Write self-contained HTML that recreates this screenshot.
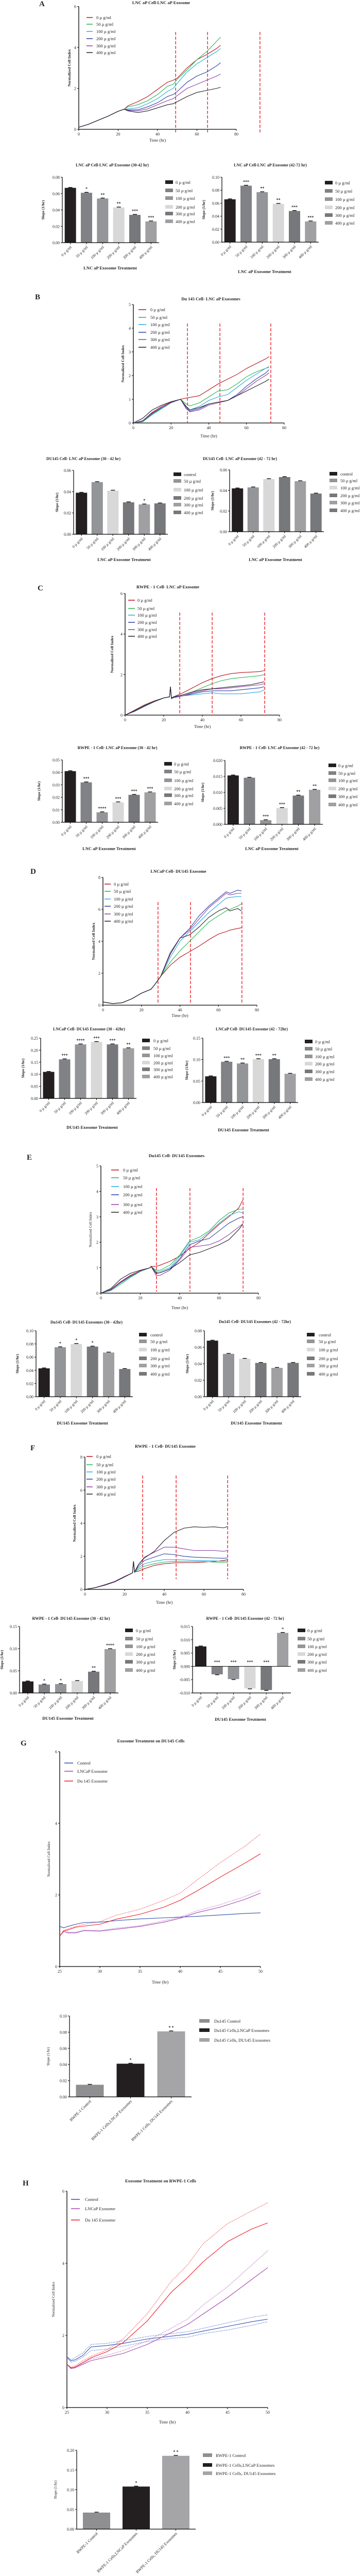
<!DOCTYPE html>
<html><head><meta charset="utf-8"><title>Exosome cell index figure</title>
<style>
html,body{margin:0;padding:0;background:#fff;width:707px;height:5026px;overflow:hidden;}
svg{display:block;font-family:"Liberation Serif",serif;overflow:hidden;}
</style></head>
<body>
<svg id="fig" width="707" height="5026" viewBox="0 0 707 5026" xmlns="http://www.w3.org/2000/svg"></svg>
<script>
// ===================== DATA =====================
const doseLabels = ["0 \u00b5 g/ml","50 \u00b5 g/ml","100 \u00b5 g/ml","200 \u00b5 g/ml","300 \u00b5 g/ml","400 \u00b5 g/ml"];
const doseLabelsCtrl = ["control","50 \u00b5 g/ml","100 \u00b5 g/ml","200 \u00b5 g/ml","300 \u00b5 g/ml","400 \u00b5 g/ml"];
const barCats = ["0 \u00b5 g/ml","50 \u00b5 g/ml","100 \u00b5 g/ml","200 \u00b5 g/ml","300 \u00b5 g/ml","400 \u00b5 g/ml"];

// ---- A line ----
const aTime = [0,5,10,15,20,23,25,30,35,40,45,48,50,55,60,65,70,72];
const aS0 = [0.1,0.25,0.45,0.65,0.88,0.98,1.15,1.35,1.6,1.95,2.3,2.4,2.5,3.0,3.4,3.65,3.95,4.1];
const aS50 = [0.1,0.25,0.45,0.65,0.88,0.98,1.1,1.2,1.4,1.7,2.1,2.2,2.45,2.9,3.4,3.8,4.3,4.5];
const aS100 = [0.1,0.25,0.45,0.65,0.88,0.98,1.0,1.05,1.25,1.5,1.85,2.0,2.25,2.8,3.2,3.5,3.8,3.95];
const aS200 = [0.1,0.25,0.45,0.65,0.88,0.98,0.95,0.95,1.1,1.3,1.6,1.7,1.85,2.3,2.6,2.8,3.1,3.25];
const aS300 = [0.1,0.25,0.45,0.65,0.88,0.98,0.92,0.9,1.0,1.2,1.4,1.5,1.65,2.0,2.2,2.4,2.6,2.7];
const aS400 = [0.1,0.25,0.45,0.65,0.88,0.98,0.9,0.82,0.9,1.05,1.2,1.25,1.35,1.6,1.8,1.9,2.0,2.05];
// ---- B line ----
const bTime = [0,5,10,15,20,25,28,30,35,40,45,50,55,60,65,70,72];
const bS0 = [0,0.1,0.45,0.7,0.88,1.0,1.05,1.08,1.15,1.4,1.65,1.85,2.05,2.3,2.5,2.7,2.8];
const bS50 = [0,0.05,0.35,0.6,0.85,1.0,0.8,0.72,0.85,1.1,1.35,1.4,1.65,1.95,2.15,2.3,2.38];
const bS100 = [0,0.08,0.38,0.62,0.85,1.0,0.7,0.55,0.7,0.95,1.1,1.2,1.5,1.8,2.05,2.3,2.35];
const bS200 = [0,0.08,0.4,0.65,0.86,1.0,0.65,0.5,0.6,0.8,0.88,0.95,1.2,1.55,1.85,2.1,2.25];
const bS300 = [0,0.1,0.42,0.66,0.86,1.0,0.6,0.47,0.55,0.75,0.85,0.95,1.15,1.45,1.75,2.0,2.12];
const bS400 = [0,0.2,0.55,0.75,0.9,1.0,0.7,0.55,0.65,0.8,0.88,0.95,1.15,1.35,1.55,1.75,1.85];
// ---- C line ----
const cTime = [0,5,10,15,20,23,23.5,24,25,30,35,40,45,50,55,60,65,70,72];
const cS0 = [0,0.25,0.5,0.7,0.85,0.9,1.4,0.85,0.9,1.1,1.35,1.6,1.8,1.95,2.05,2.1,2.12,2.15,2.2];
const cS50 = [0,0.22,0.47,0.68,0.85,0.9,1.4,0.85,0.9,1.0,1.15,1.35,1.55,1.7,1.8,1.85,1.9,1.95,2.0];
const cS100 = [0,0.18,0.42,0.65,0.84,0.9,1.4,0.8,0.85,0.95,1.0,1.05,1.1,1.05,1.05,1.05,1.1,1.15,1.25];
const cS200 = [0,0.2,0.45,0.66,0.85,0.9,1.4,0.82,0.87,0.95,1.05,1.15,1.2,1.2,1.2,1.25,1.3,1.35,1.4];
const cS300 = [0,0.2,0.45,0.66,0.85,0.9,1.4,0.82,0.88,0.95,1.1,1.2,1.3,1.3,1.35,1.4,1.45,1.5,1.55];
const cS400 = [0,0.22,0.46,0.67,0.85,0.9,1.4,0.84,0.9,1.0,1.15,1.25,1.3,1.35,1.4,1.45,1.5,1.6,1.65];
// ---- D line ----
const dTime = [0,5,10,15,20,25,27,30,35,40,45,50,55,60,64,66,70,72];
const dS0 = [0.2,0.1,0.15,0.4,0.75,1.0,1.3,1.8,2.5,3.0,3.35,3.7,4.1,4.45,4.6,4.7,4.8,4.85];
const dS50 = [0.2,0.1,0.15,0.4,0.75,1.0,1.3,1.8,2.7,3.4,4.0,4.6,5.2,5.6,5.9,6.0,6.2,6.35];
const dS100 = [0.2,0.1,0.15,0.4,0.75,1.0,1.3,1.8,3.0,4.0,4.6,5.2,5.8,6.3,6.7,6.75,6.8,6.8];
const dS200 = [0.2,0.1,0.15,0.4,0.75,1.0,1.3,1.8,3.3,4.2,4.8,5.6,6.2,6.7,7.1,7.0,7.2,7.15];
const dS300 = [0.2,0.1,0.15,0.4,0.75,1.0,1.3,1.8,3.3,4.2,4.7,5.4,6.1,6.6,7.0,6.9,7.0,7.0];
const dS400 = [0.2,0.1,0.15,0.4,0.75,1.0,1.3,1.8,3.2,4.2,4.4,4.9,5.5,5.9,6.1,5.9,6.05,5.9];
// ---- E line ----
const eTime = [0,5,10,15,20,25,25.5,28,30,35,40,45,50,55,60,65,70,72];
const eS0 = [0,0.15,0.45,0.7,0.88,1.0,1.05,1.05,1.1,1.25,1.45,1.75,2.0,2.35,2.7,3.0,3.35,3.65];
const eS50 = [0,0.1,0.35,0.62,0.85,1.0,1.05,0.9,0.9,1.1,1.5,2.05,2.2,2.45,2.85,3.15,3.3,3.3];
const eS100 = [0,0.12,0.4,0.65,0.86,1.0,1.05,0.85,0.85,1.0,1.45,2.0,2.1,2.4,2.75,3.05,3.2,3.15];
const eS200 = [0,0.13,0.42,0.67,0.87,1.0,1.05,0.8,0.8,0.95,1.35,1.9,2.05,2.15,2.45,2.75,2.95,3.0];
const eS300 = [0,0.14,0.43,0.68,0.87,1.0,1.05,0.7,0.7,0.9,1.3,1.8,1.85,1.9,2.05,2.3,2.6,2.72];
const eS400 = [0,0.18,0.55,0.78,0.9,1.0,1.05,0.78,0.8,0.95,1.2,1.5,1.6,1.75,1.9,2.1,2.5,2.7];
// ---- F line ----
const fTime = [0,5,10,15,20,24,24.5,25,27,30,35,40,45,50,55,60,65,70,72];
const fS0 = [0,0.1,0.25,0.45,0.75,1.0,1.7,1.05,1.1,1.25,1.45,1.55,1.6,1.62,1.62,1.65,1.68,1.75,1.8];
const fS50 = [0,0.1,0.25,0.45,0.75,1.0,1.7,1.05,1.2,1.4,1.55,1.65,1.7,1.68,1.68,1.68,1.65,1.62,1.62];
const fS100 = [0,0.1,0.25,0.45,0.75,1.0,1.7,1.05,1.3,1.55,1.7,1.8,1.8,1.78,1.75,1.75,1.72,1.7,1.7];
const fS200 = [0,0.1,0.25,0.45,0.75,1.0,1.7,1.05,1.4,1.75,1.95,2.15,2.1,2.0,1.95,1.92,1.9,1.88,1.9];
const fS300 = [0,0.1,0.25,0.45,0.75,1.0,1.7,1.05,1.5,1.95,2.25,2.55,2.55,2.45,2.35,2.35,2.35,2.3,2.35];
const fS400 = [0,0.1,0.28,0.48,0.78,1.0,1.7,1.05,1.5,1.9,2.3,2.95,3.45,3.7,3.78,3.75,3.78,3.72,3.8];
// ---- G line ----
const gTime = [25,25.5,26,27,28,30,32,35,38,40,42,45,48,50];
const gControl = [1.12,1.08,1.12,1.18,1.23,1.24,1.28,1.33,1.36,1.38,1.40,1.44,1.48,1.5];
const gLncap = [0.85,0.98,0.94,0.94,1.0,0.99,1.04,1.12,1.24,1.35,1.5,1.66,1.87,2.05];
const gDu145 = [0.85,1.0,1.02,1.1,1.13,1.18,1.32,1.46,1.66,1.85,2.1,2.5,2.88,3.15];
const gDu145Upper = [0.85,1.0,1.05,1.12,1.18,1.25,1.43,1.6,1.85,2.05,2.4,2.9,3.35,3.7];
const gLncapUpper = [0.85,1.0,0.96,0.96,1.02,1.0,1.07,1.14,1.28,1.38,1.55,1.73,1.95,2.13];
// ---- H line ----
const hTime = [25,25.5,26,27,28,30,32,35,38,40,42,45,48,50];
const hControl = [1.4,1.3,1.32,1.45,1.68,1.72,1.78,1.9,1.98,2.03,2.12,2.25,2.38,2.45];
const hLncap = [1.2,1.08,1.1,1.2,1.3,1.4,1.5,1.75,2.08,2.3,2.6,3.05,3.55,3.88];
const hDu145 = [1.2,1.1,1.12,1.25,1.38,1.55,1.8,2.4,3.2,3.6,4.05,4.6,4.95,5.12];
const hDu145Upper = [1.2,1.12,1.15,1.3,1.42,1.6,1.9,2.6,3.5,3.95,4.55,5.1,5.45,5.68];
const hLncapUpper = [1.2,1.1,1.12,1.22,1.35,1.45,1.58,1.85,2.2,2.45,2.85,3.35,3.95,4.35];
const hControlUpper = [1.42,1.32,1.38,1.52,1.75,1.78,1.85,1.97,2.05,2.1,2.2,2.35,2.5,2.57];
const hControlLower = [1.38,1.25,1.28,1.4,1.58,1.62,1.7,1.83,1.92,1.95,2.05,2.15,2.28,2.38];

// ---- bar values ----
const a1Vals = [0.067,0.061,0.054,0.043,0.034,0.026];
const a1Stars = ["","*","**","**","***","***"];
const a2Vals = [0.066,0.087,0.077,0.059,0.048,0.032];
const a2Stars = ["","***","**","**","***","***"];
const b1Vals = [0.039,0.049,0.041,0.030,0.028,0.029];
const b1Stars = ["","","","","*",""];
const b2Vals = [0.042,0.043,0.051,0.053,0.049,0.037];
const b2Stars = ["","","","","",""];
const c1Vals = [0.041,0.032,0.008,0.016,0.022,0.024];
const c1Stars = ["","***","****","***","***","***"];
const c2Vals = [0.0153,0.0146,0.0013,0.0051,0.0090,0.0108];
const c2Stars = ["","","***","***","**","**"];
const d1Vals = [0.110,0.162,0.224,0.234,0.224,0.208];
const d1Stars = ["","***","****","***","***","**"];
const d2Vals = [0.061,0.095,0.091,0.101,0.101,0.067];
const d2Stars = ["","***","**","***","**",""];
const e1Vals = [0.043,0.075,0.080,0.076,0.067,0.042];
const e1Stars = ["","*","*","*","",""];
const e2Vals = [0.068,0.052,0.046,0.041,0.035,0.041];
const e2Stars = ["","","","","",""];
const f1Vals = [0.026,0.019,0.020,0.027,0.048,0.099];
const f1Stars = ["","*","*","","**","****"];
const f2Vals = [0.0075,-0.0030,-0.0048,-0.0083,-0.0089,0.0126];
const f2Stars = ["","***","***","***","***","*"];
const gCats = ["RWPE-1 Control","RWPE-1 Cells,LNCaP Exosomes","RWPE-1 Cells, DU145 Exosomes"];
const gLegend = ["Du145 Control","Du145 Cells,LNCaP Exosomes","Du145 Cells, DU145 Exosomes"];
const gVals = [0.015,0.041,0.081];
const gStars = ["","*","* *"];
const hCats = ["RWPE-1 Control","RWPE-1 Cells,LNCaP Exosomes","RWPE-1 Cells, DU145 Exosomes"];
const hLegend = ["RWPE-1 Control","RWPE-1 Cells,LNCaP Exosomes","RWPE-1 Cells, DU145 Exosomes"];
const hVals = [0.042,0.108,0.186];
const hStars = ["","*","* *"];

const xTicks80 = [0,20,40,60,80];
const xTicks50 = [25,30,35,40,45,50];
const yTicks6 = [0,2,4,6];
const yTicks5 = [0,1,2,3,4,5];
const yTicks8 = [0,2,4,6,8];

// ===================== DRAWING =====================
const NS = "http://www.w3.org/2000/svg";
const svg = document.getElementById("fig");
const LC = ["#b8121b","#2bb34a","#27aae1","#2e3f9e","#8e3fa8","#231f20"];
function el(tag, attrs, name, parent) {
  const e = document.createElementNS(NS, tag);
  for (const k in attrs) e.setAttribute(k, attrs[k]);
  
  
  (parent || svg).appendChild(e);
  return e;
}
function txt(x, y, s, attrs, name, parent) {
  const a = Object.assign({x: x, y: y, "font-size": 8.5, fill: "#231f20"}, attrs || {});
  const t = el("text", a, name, parent);
  t.textContent = s;
  return t;
}
function label(x, y, s) {
  txt(x, y, s, {"font-size": 15, "font-weight": "bold"}, "panel-label");
}

function lineChart(c) {
  const g = el("g", {}, c.name);
  const sx = t => c.x0 + (t - c.xmin) / (c.xmax - c.xmin) * (c.x1 - c.x0);
  const sy = v => c.yBot - (v - c.ymin) / (c.ymax - c.ymin) * (c.yBot - c.yTop);
  txt((c.x0 + c.x1) / 2 + (c.tdx || 0), c.ty, c.title, {"text-anchor": "middle", "font-weight": "bold", "font-size": 8.5}, "chart-title", g);
  el("line", {x1: c.x0, y1: c.yTop, x2: c.x0, y2: c.yBot, stroke: "#000", "stroke-width": 1.3}, "y-axis", g);
  el("line", {x1: c.x0, y1: c.yBot, x2: c.x1, y2: c.yBot, stroke: "#000", "stroke-width": 1.3}, "x-axis", g);
  c.yt.forEach(v => {
    el("line", {x1: c.x0 - 3, y1: sy(v), x2: c.x0, y2: sy(v), stroke: "#000"}, "y-tick", g);
    txt(c.x0 - 5, sy(v) + 3, String(v), {"text-anchor": "end", "font-size": 8}, "y-tick-label", g);
  });
  c.xt.forEach(v => {
    el("line", {x1: sx(v), y1: c.yBot, x2: sx(v), y2: c.yBot + 3, stroke: "#000"}, "x-tick", g);
    txt(sx(v), c.yBot + 12, String(v), {"text-anchor": "middle", "font-size": 8}, "x-tick-label", g);
  });
  const ym = (c.yTop + c.yBot) / 2;
  txt(c.ylx, ym, "Normalized Cell Index", {"text-anchor": "middle", transform: "rotate(-90 " + c.ylx + " " + ym + ")", "font-size": 7.5, "font-weight": c.bold ? "bold" : "normal"}, "y-axis-title", g);
  txt((c.x0 + c.x1) / 2, c.xly, "Time (hr)", {"text-anchor": "middle", "font-size": 8.5}, "x-axis-title", g);
  (c.dashes || []).forEach(t => {
    el("line", {x1: sx(t), y1: c.dashTop, x2: sx(t), y2: c.dashBot, stroke: "#ed1c24", "stroke-width": 1.4, "stroke-dasharray": "6,3"}, "dashed-marker", g);
  });
  (c.dotted || []).forEach(s => {
    el("polyline", {points: s.t.map((t, i) => sx(t).toFixed(1) + "," + sy(s.v[i]).toFixed(1)).join(" "), fill: "none", stroke: s.color, "stroke-width": 1.2, "stroke-dasharray": "1.2,2"}, "dotted-series", g);
  });
  c.series.forEach((s, k) => {
    el("polyline", {points: s.t.map((t, i) => sx(t).toFixed(1) + "," + sy(s.v[i]).toFixed(1)).join(" "), fill: "none", stroke: s.color, "stroke-width": 1.1}, "series-line", g);
  });
  c.series.forEach((s, k) => {
    const y = c.legYs[k];
    el("line", {x1: c.legX, y1: y, x2: c.legX + c.legW, y2: y, stroke: s.color, "stroke-width": 1.5}, "legend-swatch", g);
    txt(c.legTX, y + 3, s.label, {"font-size": 8.5}, "legend-entry", g);
  });
}

function barChart(c) {
  const g = el("g", {}, c.name);
  const n = c.vals.length;
  const step = (c.x1 - c.x0) / n;
  const sy = v => c.yBot - (v - c.ymin) / (c.ymax - c.ymin) * (c.yBot - c.yTop);
  if (c.title) txt(c.tx, c.ty, c.title, {"text-anchor": "middle", "font-weight": "bold", "font-size": 8}, "chart-title", g);
  el("line", {x1: c.x0, y1: c.yTop, x2: c.x0, y2: c.yBot, stroke: "#000", "stroke-width": 1.2}, "y-axis", g);
  c.yt.forEach(v => {
    el("line", {x1: c.x0 - 3, y1: sy(v), x2: c.x0, y2: sy(v), stroke: "#000"}, "y-tick", g);
    txt(c.x0 - 5, sy(v) + 3, v.toFixed(c.dec), {"text-anchor": "end", "font-size": 8}, "y-tick-label", g);
  });
  const y0 = sy(Math.max(0, c.ymin));
  for (let i = 0; i < n; i++) {
    const cx = c.x0 + step * (i + 0.5);
    const v = c.vals[i];
    const top = Math.min(sy(v), y0), h = Math.abs(sy(v) - y0);
    el("rect", {x: cx - c.bw / 2, y: top, width: c.bw, height: h, fill: c.colors[i]}, "bar", g);
    const ey = sy(v);
    const dir = v >= 0 ? -1 : 1;
    el("line", {x1: cx - 4, y1: ey + dir * 0.8, x2: cx + 4, y2: ey + dir * 0.8, stroke: "#000", "stroke-width": 1.3}, "error-cap", g);
    if (c.stars[i]) txt(cx, v >= 0 ? ey - 5 : sy(0) - 6, c.stars[i], {"text-anchor": "middle", "font-size": 8, "font-weight": "bold"}, "significance-mark", g);
    el("line", {x1: cx, y1: c.yBot, x2: cx, y2: c.yBot + 3, stroke: "#000"}, "x-tick", g);
    txt(cx + 3, c.yBot + 9, c.cats[i], {"text-anchor": "end", "font-size": c.catSize || 7.5, transform: "rotate(-45 " + (cx + 3) + " " + (c.yBot + 9) + ")"}, "x-tick-label", g);
  }
  el("line", {x1: c.x0, y1: c.yBot, x2: c.x1, y2: c.yBot, stroke: "#000", "stroke-width": 1.2}, "x-axis", g);
  if (c.ymin < 0) el("line", {x1: c.x0, y1: sy(0), x2: c.x1, y2: sy(0), stroke: "#000", "stroke-width": 1}, "zero-line", g);
  const ym = (c.yTop + c.yBot) / 2;
  txt(c.ylx, ym, "Slope (1/hr)", {"text-anchor": "middle", transform: "rotate(-90 " + c.ylx + " " + ym + ")", "font-size": 7.5, "font-weight": c.plain ? "normal" : "bold"}, "y-axis-title", g);
  if (c.xlabel) txt(c.xlx, c.xly, c.xlabel, {"text-anchor": "middle", "font-size": 8.5, "font-weight": "bold"}, "x-axis-title", g);
  c.legLabels.forEach((s, k) => {
    const y = c.legYs[k];
    el("rect", {x: c.legX, y: y - 4, width: c.legW, height: 7, fill: c.colors[k]}, "legend-swatch", g);
    txt(c.legTX, y + 3, s, {"font-size": 8.5}, "legend-entry", g);
  });
}

const ser = (t, arrs, labels) => arrs.map((v, i) => ({t: t, v: v, color: LC[i], label: labels[i]}));
const C1 = ["#231f20","#808285","#939598","#d8d8d8","#77787b","#a0a0a2"];
const C2 = ["#231f20","#939598","#d8d8d8","#77787b","#a0a0a2","#77787b"];

// ---------- A ----------
label(76, 12, "A");
lineChart({name:"chart-a-line", x0:153,x1:459,yTop:12.5,yBot:251,xmin:0,xmax:80,ymin:0,ymax:6,xt:xTicks80,yt:yTicks6,
  title:"LNC aP Cell-LNC aP Exosome", ty:8, tdx:7, ylx:137, xly:275, bold:true,
  dashes:[49.2,65.4,92], dashTop:62, dashBot:257,
  series:ser(aTime,[aS0,aS50,aS100,aS200,aS300,aS400],doseLabels), legX:168, legW:12, legTX:187, legYs:[34,47,61,75,89,102]});
barChart({name:"chart-a-bar-30-42", x0:121,x1:309,yTop:344,yBot:471,ymin:0,ymax:0.08,yt:[0,0.02,0.04,0.06,0.08],dec:2,
  vals:a1Vals, stars:a1Stars, cats:barCats, colors:C1, bw:22, title:"LNC aP Cell-LNC aP Exosome (30-42 hr)", tx:218, ty:323,
  xlabel:"LNC aP Exosome Treatment", xlx:214, xly:523, ylx:86, legLabels:doseLabels, legX:321, legW:15, legTX:341, legYs:[354,370,385,402,415,430]});
barChart({name:"chart-a-bar-42-72", x0:431,x1:619,yTop:344,yBot:470,ymin:0,ymax:0.10,yt:[0,0.02,0.04,0.06,0.08,0.10],dec:2,
  vals:a2Vals, stars:a2Stars, cats:barCats, colors:C1, bw:22, title:"LNC aP Cell-LNC aP Exosome (42-72 hr)", tx:525, ty:323,
  xlabel:"LNC aP Exosome Treatment", xlx:514, xly:530, ylx:398, legLabels:doseLabels, legX:631, legW:15, legTX:651, legYs:[355,371,387,403,418,433]});

// ---------- B ----------
label(68, 581, "B");
lineChart({name:"chart-b-line", x0:259,x1:552,yTop:591,yBot:821,xmin:0,xmax:80,ymin:0,ymax:5,xt:xTicks80,yt:yTicks5,
  title:"Du 145  Cell- LNC aP Exosomes", ty:583, tdx:4, ylx:241, xly:849, bold:true,
  dashes:[28.7,45.9,72.9], dashTop:628, dashBot:822,
  series:ser(bTime,[bS0,bS50,bS100,bS200,bS300,bS400],doseLabels), legX:269, legW:15, legTX:292, legYs:[601,616,630,645,659,674]});
barChart({name:"chart-b-bar-30-42", x0:143,x1:326,yTop:913,yBot:1037,ymin:0,ymax:0.06,yt:[0,0.02,0.04,0.06],dec:2,
  vals:b1Vals, stars:b1Stars, cats:barCats, colors:C2, bw:22, title:"DU145  Cell- LNC aP Exosome (30 - 42 hr)", tx:162, ty:893,
  xlabel:"LNC aP Exosome Treatment", xlx:241, xly:1089, ylx:113, legLabels:doseLabelsCtrl, legX:337, legW:15, legTX:357, legYs:[921,934,951,967,980,995]});
barChart({name:"chart-b-bar-42-72", x0:446,x1:629,yTop:912,yBot:1032,ymin:0,ymax:0.06,yt:[0,0.02,0.04,0.06],dec:2,
  vals:b2Vals, stars:b2Stars, cats:barCats, colors:C2, bw:22, title:"DU145  Cell- LNC aP Exosome (42 - 72 hr)", tx:466, ty:893,
  xlabel:"LNC aP Exosome Treatment", xlx:535, xly:1089, ylx:415, legLabels:doseLabelsCtrl, legX:640, legW:15, legTX:661, legYs:[920,933,947,962,976,991]});

// ---------- C ----------
label(73, 1146, "C");
lineChart({name:"chart-c-line", x0:243,x1:543,yTop:1152,yBot:1388,xmin:0,xmax:80,ymin:0,ymax:6,xt:xTicks80,yt:yTicks6,
  title:"RWPE - 1  Cell- LNC aP Exosome", ty:1142, tdx:-67, ylx:220, xly:1413, bold:true,
  dashes:[28.3,45.1,72.3], dashTop:1189, dashBot:1388,
  series:ser(cTime,[cS0,cS50,cS100,cS200,cS300,cS400],doseLabels), legX:249, legW:13, legTX:267, legYs:[1165,1181,1194,1208,1222,1235]});
barChart({name:"chart-c-bar-30-42", x0:121,x1:307,yTop:1475,yBot:1596,ymin:0,ymax:0.05,yt:[0,0.01,0.02,0.03,0.04,0.05],dec:2,
  vals:c1Vals, stars:c1Stars, cats:barCats, colors:C1, bw:22, title:"RWPE - 1  Cell- LNC aP Exosome (30 - 42 hr)", tx:228, ty:1454,
  xlabel:"LNC aP Exosome Treatment", xlx:212, xly:1650, ylx:78, legLabels:doseLabels, legX:319, legW:15, legTX:338, legYs:[1483,1498,1515,1531,1544,1560]});
barChart({name:"chart-c-bar-42-72", x0:437,x1:627,yTop:1476,yBot:1600,ymin:0,ymax:0.020,yt:[0,0.005,0.010,0.015,0.020],dec:3,
  vals:c2Vals, stars:c2Stars, cats:barCats, colors:C1, bw:22, title:"RWPE - 1  Cell- LNC aP Exosome (42 - 72 hr)", tx:543, ty:1454,
  xlabel:"LNC aP Exosome Treatment", xlx:528, xly:1650, ylx:396, legLabels:doseLabels, legX:638, legW:15, legTX:657, legYs:[1486,1501,1515,1531,1546,1562]});

// ---------- D ----------
label(59, 1696, "D");
lineChart({name:"chart-d-line", x0:200,x1:499,yTop:1703,yBot:1951,xmin:0,xmax:80,ymin:0,ymax:8,xt:xTicks80,yt:yTicks8,
  title:"LNCaP  Cell- DU145 Exosome", ty:1694, tdx:-3, ylx:184, xly:1974, bold:true,
  dashes:[28.6,45.5,72.2], dashTop:1751, dashBot:1947,
  series:ser(dTime,[dS0,dS50,dS100,dS200,dS300,dS400],doseLabels), legX:203, legW:12, legTX:221, legYs:[1716,1730,1745,1759,1774,1788]});
barChart({name:"chart-d-bar-30-42", x0:79,x1:265,yTop:2015,yBot:2132,ymin:0,ymax:0.25,yt:[0,0.05,0.10,0.15,0.20,0.25],dec:2,
  vals:d1Vals, stars:d1Stars, cats:barCats, colors:C1, bw:22, title:"LNCaP  Cell- DU145 Exosome (30 - 42hr)", tx:173, ty:2000,
  xlabel:"DU145 Exosome Treatment", xlx:179, xly:2191, ylx:47, legLabels:doseLabels, legX:276, legW:15, legTX:298, legYs:[2020,2035,2049,2063,2076,2090]});
barChart({name:"chart-d-bar-42-72", x0:394,x1:579,yTop:2015,yBot:2140,ymin:0,ymax:0.15,yt:[0,0.05,0.10,0.15],dec:2,
  vals:d2Vals, stars:d2Stars, cats:barCats, colors:C1, bw:22, title:"LNCaP  Cell- DU145 Exosome (42 - 72hr)", tx:489, ty:2000,
  xlabel:"DU145 Exosome Treatment", xlx:473, xly:2196, ylx:365, legLabels:doseLabels, legX:592, legW:15, legTX:612, legYs:[2022,2036,2051,2065,2080,2095]});

// ---------- E ----------
label(52, 2251, "E");
lineChart({name:"chart-e-line", x0:196,x1:502,yTop:2263,yBot:2510,xmin:0,xmax:80,ymin:0,ymax:5,xt:xTicks80,yt:yTicks5,
  title:"Du145  Cell- DU145 Exosomes", ty:2246, tdx:-6, ylx:178, xly:2541, bold:false,
  dashes:[28.2,45.2,72.2], dashTop:2306, dashBot:2507,
  series:ser(eTime,[eS0,eS50,eS100,eS200,eS300,eS400],doseLabels), legX:216, legW:15, legTX:239, legYs:[2271,2286,2303,2319,2338,2353]});
barChart({name:"chart-e-bar-30-42", x0:70,x1:258,yTop:2583,yBot:2711,ymin:0,ymax:0.10,yt:[0,0.02,0.04,0.06,0.08,0.10],dec:2,
  vals:e1Vals, stars:e1Stars, cats:barCats, colors:C2, bw:22, title:"Du145  Cell- DU145 Exosomes (30 - 42hr)", tx:168, ty:2569,
  xlabel:"DU145 Exosome Treatment", xlx:160, xly:2765, ylx:36, legLabels:doseLabelsCtrl, legX:270, legW:15, legTX:292, legYs:[2591,2604,2620,2637,2651,2667]});
barChart({name:"chart-e-bar-42-72", x0:397,x1:585,yTop:2583,yBot:2711,ymin:0,ymax:0.08,yt:[0,0.02,0.04,0.06,0.08],dec:2,
  vals:e2Vals, stars:e2Stars, cats:barCats, colors:C2, bw:22, title:"Du145  Cell- DU145 Exosomes (42 - 72hr)", tx:495, ty:2568,
  xlabel:"DU145 Exosome Treatment", xlx:498, xly:2765, ylx:366, legLabels:doseLabelsCtrl, legX:596, legW:15, legTX:619, legYs:[2591,2604,2620,2637,2651,2667]});

// ---------- F ----------
label(59, 2815, "F");
lineChart({name:"chart-f-line", x0:165,x1:473,yTop:2828,yBot:3085,xmin:0,xmax:80,ymin:0,ymax:8,xt:xTicks80,yt:yTicks8,
  title:"RWPE - 1  Cell- DU145 Exosome", ty:2810, tdx:2, ylx:147, xly:3113, bold:true,
  dashes:[29.1,46,72], dashTop:2864, dashBot:3065,
  series:ser(fTime,[fS0,fS50,fS100,fS200,fS300,fS400],doseLabels), legX:168, legW:12, legTX:187, legYs:[2827,2843,2857,2871,2886,2900]});
barChart({name:"chart-f-bar-30-42", x0:38,x1:230,yTop:3157,yBot:3286,ymin:0,ymax:0.15,yt:[0,0.05,0.10,0.15],dec:2,
  vals:f1Vals, stars:f1Stars, cats:barCats, colors:C1, bw:22, title:"RWPE - 1  Cell- DU145 Exosome (30 - 42 hr)", tx:138, ty:3144,
  xlabel:"DU145 Exosome Treatment", xlx:132, xly:3338, ylx:6, legLabels:doseLabels, legX:243, legW:15, legTX:264, legYs:[3165,3181,3196,3211,3226,3242]});
barChart({name:"chart-f-bar-42-72", x0:374,x1:565,yTop:3157,yBot:3286,ymin:-0.010,ymax:0.015,yt:[-0.010,-0.005,0,0.005,0.010,0.015],dec:3,
  vals:f2Vals, stars:f2Stars, cats:barCats, colors:C1, bw:22, title:"RWPE - 1  Cell- DU145 Exosome (42 - 72 hr)", tx:476, ty:3144,
  xlabel:"DU145 Exosome Treatment", xlx:467, xly:3340, ylx:341, legLabels:doseLabels, legX:578, legW:15, legTX:597, legYs:[3165,3181,3196,3211,3226,3242]});

// ---------- G ----------
label(40, 3388, "G");
lineChart({name:"chart-g-line", x0:116,x1:506,yTop:3400,yBot:3817,xmin:25,xmax:50,ymin:0,ymax:6,xt:xTicks50,yt:yTicks6,
  title:"Exosome Treatment on DU145 Cells", ty:3382, tdx:-18, ylx:97, xly:3850, bold:false,
  dotted:[{t:gTime,v:gDu145Upper,color:"#ed1c24"},{t:gTime,v:gLncapUpper,color:"#a347b0"}],
  series:[{t:gTime,v:gControl,color:"#2e4fb0",label:"Control"},{t:gTime,v:gLncap,color:"#a347b0",label:"LNCaP Exosome"},{t:gTime,v:gDu145,color:"#ed1c24",label:"Du 145 Exosome"}],
  legX:125, legW:17, legTX:150, legYs:[3422,3438,3457]});
barChart({name:"chart-g-bar", x0:135,x1:372,yTop:3913,yBot:4070,ymin:0,ymax:0.10,yt:[0,0.02,0.04,0.06,0.08,0.10],dec:2,
  vals:gVals, stars:gStars, cats:gCats, colors:["#8f8f91","#231f20","#a5a5a7"], bw:54, catSize:8, plain:true,
  ylx:96, legLabels:gLegend, legX:387, legW:20, legTX:416, legYs:[3923,3941,3960]});

// ---------- H ----------
label(44, 4242, "H");
lineChart({name:"chart-h-line", x0:130,x1:520,yTop:4253,yBot:4673,xmin:25,xmax:50,ymin:0,ymax:6,xt:xTicks50,yt:yTicks6,
  title:"Exosome Treatment on RWPE-1 Cells", ty:4236, tdx:-13, ylx:106, xly:4704, bold:false,
  dotted:[{t:hTime,v:hDu145Upper,color:"#ed1c24"},{t:hTime,v:hLncapUpper,color:"#a347b0"},{t:hTime,v:hControlUpper,color:"#2e4fb0"},{t:hTime,v:hControlLower,color:"#2e4fb0"}],
  series:[{t:hTime,v:hControl,color:"#2e4fb0",label:"Control"},{t:hTime,v:hLncap,color:"#a347b0",label:"LNCaP Exosome"},{t:hTime,v:hDu145,color:"#ed1c24",label:"Du 145 Exosome"}],
  legX:138, legW:17, legTX:165, legYs:[4269,4287,4309]});
barChart({name:"chart-h-bar", x0:149,x1:380,yTop:4756,yBot:4909,ymin:0,ymax:0.20,yt:[0,0.05,0.10,0.15,0.20],dec:2,
  vals:hVals, stars:hStars, cats:hCats, colors:["#8f8f91","#231f20","#a5a5a7"], bw:53, catSize:8, plain:true,
  ylx:110, legLabels:hLegend, legX:394, legW:18, legTX:419, legYs:[4766,4785,4801]});
</script>
</body></html>
